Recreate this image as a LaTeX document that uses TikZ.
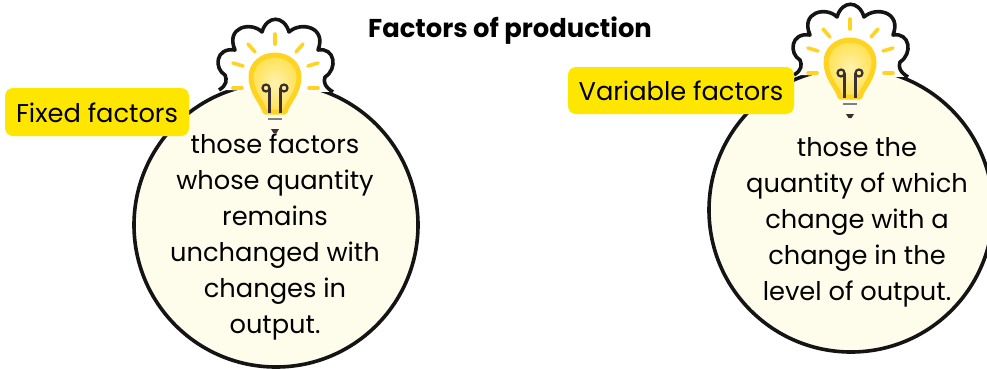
\documentclass[tikz,border=0pt]{standalone}
\usepackage{fontspec}
\setmainfont{Poppins}
\definecolor{paper}{HTML}{FEFCEA}
\definecolor{labelyellow}{HTML}{FFE600}
\definecolor{bulbyellow}{HTML}{FFD322}
\definecolor{bulblight}{HTML}{FFF2B0}
\definecolor{bulbmid}{HTML}{FFE150}
\definecolor{ink}{HTML}{141414}
\definecolor{filament}{HTML}{3A3030}
\tikzset{
  disc/.style={draw=ink,line width=3.6pt,fill=paper},
  petals/.style={draw=ink,line width=3.6pt,line join=round},
  ray/.style={draw=bulbyellow,line width=3.6pt,line cap=round},
  glass/.style={draw=bulbyellow,line width=5pt,line join=round,inner color=bulblight,outer color=bulbmid},
  wire/.style={draw=filament,line width=2.2pt},
  body/.style={font=\fontsize{25.7}{36}\selectfont,text=black,align=center,anchor=center,inner sep=0pt},
  tag/.style={fill=labelyellow,rounded corners=8pt},
  tagtext/.style={font=\fontsize{25.7}{30}\selectfont,text=black,inner sep=0pt,anchor=center},
  titletext/.style={font=\fontsize{25.8}{30}\selectfont\bfseries,text=black,inner sep=0pt,anchor=center},
  idea/.pic={
    \path[fill=white] (-56,13) .. controls (-48,8) and (-48,3) .. (-50,-2)
      .. controls (-61,-8) and (-60,-30) .. (-40,-27)
      .. controls (-50,-50) and (-24,-56) .. (-13,-45)
      .. controls (-8,-62) and (9,-62) .. (14,-45)
      .. controls (26,-56) and (52,-50) .. (43,-27)
      .. controls (60,-30) and (63,-8) .. (50,0)
      .. controls (48,5) and (50,10) .. (58,15) -- cycle;
    \draw[petals] (-56,13) .. controls (-48,8) and (-48,3) .. (-50,-2)
      .. controls (-61,-8) and (-60,-30) .. (-40,-27)
      .. controls (-50,-50) and (-24,-56) .. (-13,-45)
      .. controls (-8,-62) and (9,-62) .. (14,-45)
      .. controls (26,-56) and (52,-50) .. (43,-27)
      .. controls (60,-30) and (63,-8) .. (50,0)
      .. controls (48,5) and (50,10) .. (58,15);
    \draw[ray] (0,-43) -- (0,-33);
    \draw[ray] (-27,-33) -- (-20,-25);
    \draw[ray] (28,-33) -- (21,-25);
    \draw[ray] (-42,-14) -- (-32,-11);
    \draw[ray] (43,-14) -- (33,-11);
    \draw[ray] (-42,11) -- (-33,11);
    \draw[ray] (43,11) -- (34,11);
    \path[glass] (-10,35) .. controls (-12,26) and (-24,16) .. (-24,0)
      .. controls (-24,-13) and (-13,-22) .. (0,-22)
      .. controls (13,-22) and (24,-13) .. (24,0)
      .. controls (24,16) and (12,26) .. (10,35) -- cycle;
    \draw[wire] (-5.5,36) -- (-5.5,11);
    \draw[wire] (5.5,36) -- (5.5,11);
    \draw[wire] (-9,11) circle[radius=3.5];
    \draw[wire] (9,11) circle[radius=3.5];
    \draw[draw=gray,line width=1.6pt] (-7,42) -- (7,42);
    \fill[filament] (-4,52) -- (4,52) -- (1.5,56) -- (-1.5,56) -- cycle;
  }
}
\begin{document}
\begin{tikzpicture}[x=1pt,y=-1pt]
\useasboundingbox (0,0) rectangle (987,368);
\fill[white] (0,0) rectangle (987,368);
\path[disc] (276,225) ellipse[x radius=142,y radius=142];
\path[disc] (851,210) ellipse[x radius=142,y radius=142];
\pic at (275,77) {idea};
\pic at (850,62) {idea};
\node[titletext] (title) at (510,31) {Factors of production};
\node[body] (fixedtext) at (275,237) {those factors\\whose quantity\\remains\\unchanged with\\changes in\\output.};
\node[body] (variabletext) at (857,222) {those the\\quantity of which\\change with a\\change in the\\level of output.};
\path[tag] (5,88) rectangle (189,136);
\node[tagtext] (fixedtag) at (97,113) {Fixed factors};
\path[tag] (568,67) rectangle (794,114);
\node[tagtext] (variabletag) at (681,91) {Variable factors};
\end{tikzpicture}
\end{document}
